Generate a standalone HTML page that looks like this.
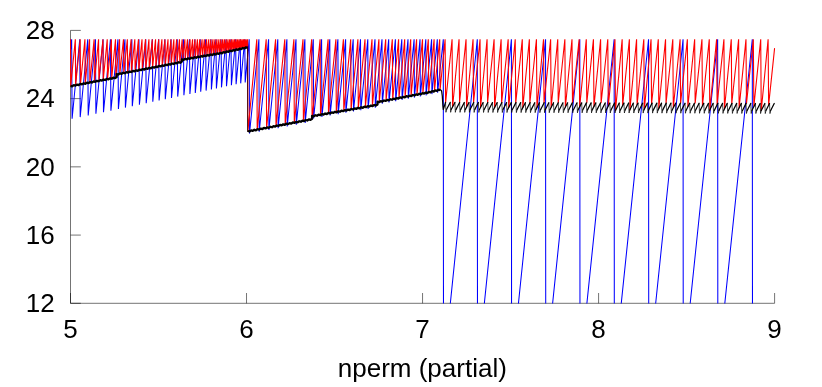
<!DOCTYPE html>
<html><head><meta charset="utf-8"><title>chart</title>
<style>
html,body{margin:0;padding:0;background:#fff;}
body{width:822px;height:387px;overflow:hidden;}
svg{display:block;}
text{font-family:"Liberation Sans",sans-serif;font-size:26px;fill:#000;}
</style></head><body>
<svg width="822" height="387" viewBox="0 0 822 387">
<rect x="0" y="0" width="822" height="387" fill="#fff"/>
<defs><filter id="gray" x="0" y="0" width="822" height="387" filterUnits="userSpaceOnUse" color-interpolation-filters="sRGB"><feColorMatrix type="saturate" values="0"/></filter><clipPath id="c"><rect x="69.90" y="30.40" width="705.30" height="273.20"/></clipPath></defs>
<path d="M70.50,30.40 L70.50,303.30 L774.60,303.30" fill="none" stroke="#000" stroke-width="0.55"/>
<path d="M70.50,30.40 h10.3 M70.50,98.62 h10.3 M70.50,166.85 h10.3 M70.50,235.08 h10.3 M70.50,303.30 h10.3 M70.50,303.30 v-10.3 M246.53,303.30 v-10.3 M422.55,303.30 v-10.3 M598.58,303.30 v-10.3 M774.60,303.30 v-10.3" fill="none" stroke="#000" stroke-width="0.55"/>
<g clip-path="url(#c)" fill="none" stroke-linejoin="bevel" stroke-linecap="butt">
<path d="M70.50,50.00 L71.65,39.30 L72.10,118.80 L79.75,39.30 L80.20,117.10 L87.75,39.30 L88.20,115.41 L95.45,39.30 L95.90,113.79 L103.05,39.30 L103.50,112.19 L110.45,39.30 L110.90,110.64 L117.95,39.30 L118.40,109.06 L124.95,39.30 L125.40,107.59 L131.85,39.30 L132.30,106.13 L138.95,39.30 L139.40,104.64 L145.75,39.30 L146.20,103.21 L152.35,39.30 L152.80,101.82 L158.65,39.30 L159.10,100.50 L164.85,39.30 L165.30,99.19 L171.05,39.30 L171.50,97.89 L177.25,39.30 L177.70,96.58 L183.45,39.30 L183.90,95.28 L189.45,39.30 L189.90,94.01 L194.85,39.30 L195.30,92.88 L200.25,39.30 L200.70,91.74 L205.65,39.30 L206.10,90.61 L210.95,39.30 L211.40,89.49 L215.95,39.30 L216.40,88.44 L221.05,39.30 L221.50,87.37 L226.05,39.30 L226.50,86.31 L230.95,39.30 L231.40,85.28 L235.65,39.30 L236.10,84.29 L240.25,39.30 L240.70,83.33 L244.75,39.30 L245.20,82.38 L249.20,39.30 L249.50,133.60 L258.90,39.30 L259.20,131.75 L268.60,39.30 L268.90,129.91 L277.80,39.30 L278.10,128.16 L286.90,39.30 L287.20,126.43 L296.00,39.30 L296.30,124.70 L304.90,39.30 L305.20,123.01 L313.30,39.30 L313.60,118.44 L321.60,39.30 L321.90,116.99 L329.80,39.30 L330.10,115.57 L337.90,39.30 L338.20,114.16 L345.60,39.30 L345.90,112.82 L353.20,39.30 L353.50,111.50 L360.50,39.30 L360.80,110.23 L367.80,39.30 L368.10,108.96 L375.00,39.30 L375.30,107.70 L382.00,39.30 L382.30,103.69 L388.70,39.30 L389.00,102.41 L395.40,39.30 L395.70,101.14 L401.80,39.30 L402.10,99.93 L408.00,39.30 L408.30,98.75 L414.10,39.30 L414.40,97.59 L420.00,39.30 L420.30,96.47 L425.80,39.30 L426.10,95.37 L431.60,39.30 L431.90,94.08 L437.30,39.30 L437.60,92.77 L443.30,39.30 L443.50,370.20 L477.30,39.30 L477.50,370.20 L511.40,39.30 L511.60,370.20 L545.55,39.30 L545.75,370.20 L579.80,39.30 L580.00,370.20 L614.15,39.30 L614.35,370.20 L648.55,39.30 L648.75,370.20 L683.05,39.30 L683.25,370.20 L717.65,39.30 L717.85,370.20 L752.30,39.30 L752.50,370.20" stroke="#0000ff" stroke-width="1.05"/>
<path d="M70.50,39.30 L70.70,86.16 L75.34,39.30 L75.64,85.22 L80.18,39.30 L80.48,84.30 L84.92,39.30 L85.22,83.40 L89.56,39.30 L89.86,82.52 L94.11,39.30 L94.41,81.66 L98.57,39.30 L98.87,80.81 L102.94,39.30 L103.24,79.98 L107.22,39.30 L107.52,79.17 L111.41,39.30 L111.71,78.37 L115.51,39.30 L115.81,77.59 L119.54,39.30 L119.84,73.80 L123.48,39.30 L123.78,73.06 L127.34,39.30 L127.64,72.32 L131.12,39.30 L131.42,71.60 L134.83,39.30 L135.13,70.90 L138.46,39.30 L138.76,70.21 L142.02,39.30 L142.32,69.53 L145.50,39.30 L145.80,68.87 L148.92,39.30 L149.22,68.22 L152.26,39.30 L152.56,67.59 L155.54,39.30 L155.84,66.96 L158.75,39.30 L159.05,66.35 L161.90,39.30 L162.20,65.76 L164.98,39.30 L165.28,65.17 L168.00,39.30 L168.30,64.60 L170.95,39.30 L171.25,64.03 L173.85,39.30 L174.15,63.48 L176.69,39.30 L176.99,62.94 L179.47,39.30 L179.77,62.42 L182.20,39.30 L182.50,59.68 L184.87,39.30 L185.17,59.23 L187.48,39.30 L187.78,58.78 L190.04,39.30 L190.34,58.35 L192.55,39.30 L192.85,57.92 L195.01,39.30 L195.31,57.50 L197.42,39.30 L197.72,57.09 L199.78,39.30 L200.08,56.69 L202.09,39.30 L202.39,56.30 L204.36,39.30 L204.66,55.91 L206.57,39.30 L206.87,55.54 L208.73,39.30 L209.03,55.17 L210.85,39.30 L211.15,54.81 L212.93,39.30 L213.23,54.46 L214.95,39.30 L215.25,54.11 L216.94,39.30 L217.24,53.78 L218.88,39.30 L219.18,53.45 L220.78,39.30 L221.08,53.07 L222.64,39.30 L222.94,52.67 L224.46,39.30 L224.76,52.28 L226.24,39.30 L226.54,51.89 L227.98,39.30 L228.28,51.52 L229.69,39.30 L229.99,51.15 L231.36,39.30 L231.66,50.79 L232.99,39.30 L233.29,50.44 L234.59,39.30 L234.89,50.10 L236.15,39.30 L236.45,49.76 L237.68,39.30 L237.98,49.43 L239.17,39.30 L239.47,49.11 L240.64,39.30 L240.94,48.80 L242.07,39.30 L242.37,48.49 L243.47,39.30 L243.77,48.19 L244.84,39.30 L245.14,47.89 L246.19,39.30 L246.49,47.61 L247.60,39.30 L247.90,131.40 L256.80,39.30 L257.20,129.65 L266.20,39.30 L266.60,127.87 L275.60,39.30 L276.00,126.08 L284.80,39.30 L285.20,124.33 L293.90,39.30 L294.30,122.60 L303.00,39.30 L303.40,120.87 L311.70,39.30 L312.10,119.22 L320.10,39.30 L320.50,114.76 L328.10,39.30 L328.50,113.36 L335.90,39.30 L336.30,112.01 L343.40,39.30 L343.80,110.70 L350.70,39.30 L351.10,109.43 L357.90,39.30 L358.30,108.18 L365.00,39.30 L365.40,106.94 L372.00,39.30 L372.40,105.73 L378.90,39.30 L379.30,101.78 L385.70,39.30 L386.10,100.48 L392.30,39.30 L392.70,99.23 L398.60,39.30 L399.00,98.03 L404.70,39.30 L405.10,96.88 L410.70,39.30 L411.10,95.73 L416.60,39.30 L417.00,94.61 L422.50,39.30 L422.90,93.49 L428.30,39.30 L428.70,92.39 L434.10,39.30 L434.50,91.00 L439.70,39.30 L440.10,89.72 L445.10,39.30 L445.60,102.60 L452.07,39.30 L452.57,107.21 L459.05,39.30 L459.55,102.65 L466.04,39.30 L466.54,107.51 L473.04,39.30 L473.54,102.79 L480.04,39.30 L480.54,107.74 L487.06,39.30 L487.56,102.97 L494.09,39.30 L494.59,107.88 L501.12,39.30 L501.62,103.07 L508.17,39.30 L508.67,107.95 L515.22,39.30 L515.72,103.10 L522.28,39.30 L522.78,107.94 L529.36,39.30 L529.86,103.05 L536.44,39.30 L536.94,107.86 L543.53,39.30 L544.03,102.92 L550.63,39.30 L551.13,107.69 L557.74,39.30 L558.24,102.98 L564.86,39.30 L565.36,107.45 L571.99,39.30 L572.49,103.02 L579.13,39.30 L579.63,107.13 L586.28,39.30 L586.78,103.07 L593.44,39.30 L593.94,106.73 L600.60,39.30 L601.10,103.12 L607.78,39.30 L608.28,106.24 L614.97,39.30 L615.47,110.86 L622.16,39.30 L622.66,105.68 L629.37,39.30 L629.87,110.27 L636.58,39.30 L637.08,105.04 L643.81,39.30 L644.31,109.59 L651.04,39.30 L651.54,104.31 L658.29,39.30 L658.79,108.82 L665.54,39.30 L666.04,103.50 L672.80,39.30 L673.30,107.98 L680.08,39.30 L680.58,103.39 L687.36,39.30 L687.86,107.05 L694.65,39.30 L695.15,103.43 L701.95,39.30 L702.45,106.05 L709.27,39.30 L709.77,110.43 L716.59,39.30 L717.09,104.95 L723.92,39.30 L724.42,109.30 L731.26,39.30 L731.76,103.78 L738.61,39.30 L739.11,108.09 L745.97,39.30 L746.47,103.61 L753.34,39.30 L753.84,106.79 L760.72,39.30 L761.22,111.05 L768.11,39.30 L768.61,105.41 L774.60,48.12" stroke="#ff0000" stroke-width="1.1"/>
<path d="M247.55,46.5 V132" stroke="#000" stroke-width="0.7"/>
<path d="M70.50,85.80 L72.15,86.29 L73.80,85.17 L75.45,85.66 L77.10,84.55 L78.75,85.03 L80.40,83.92 L82.05,84.41 L83.70,83.29 L85.35,83.78 L87.00,82.66 L88.65,83.15 L90.30,82.04 L91.95,82.52 L93.60,81.41 L95.25,81.90 L96.90,80.78 L98.55,81.27 L100.20,80.16 L101.85,80.64 L103.50,79.53 L105.15,80.02 L106.80,78.90 L108.45,79.39 L110.10,78.28 L111.75,78.76 L113.40,77.65 L115.05,78.14 L116.70,77.02 L116.70,74.00 L118.33,74.49 L119.95,73.38 L121.58,73.87 L123.21,72.76 L124.84,73.25 L126.47,72.14 L128.09,72.64 L129.72,71.53 L131.35,72.02 L132.97,70.91 L134.60,71.40 L136.23,70.29 L137.86,70.78 L139.49,69.67 L141.11,70.16 L142.74,69.05 L144.37,69.54 L146.00,68.43 L147.62,68.92 L149.25,67.82 L150.88,68.31 L152.50,67.20 L154.13,67.69 L155.76,66.58 L157.39,67.07 L159.02,65.96 L160.64,66.45 L162.27,65.34 L163.90,65.83 L165.53,64.72 L167.15,65.21 L168.78,64.10 L170.41,64.60 L172.03,63.49 L173.66,63.98 L175.29,62.87 L176.92,63.36 L178.55,62.25 L180.17,62.74 L181.80,61.63 L181.80,59.40 L183.40,59.93 L185.01,58.85 L186.61,59.38 L188.22,58.31 L189.82,58.84 L191.43,57.76 L193.03,58.29 L194.64,57.22 L196.24,57.74 L197.85,56.67 L199.45,57.20 L201.06,56.13 L202.66,56.65 L204.27,55.58 L205.87,56.11 L207.48,55.03 L209.08,55.56 L210.69,54.49 L212.29,55.02 L213.90,53.94 L215.50,54.47 L217.11,53.40 L218.71,53.92 L220.32,52.83 L221.92,53.29 L223.53,52.14 L225.13,52.60 L226.74,51.45 L228.34,51.91 L229.95,50.76 L231.55,51.22 L233.16,50.07 L234.76,50.53 L236.37,49.38 L237.97,49.84 L239.58,48.69 L241.18,49.15 L242.79,48.00 L244.39,48.46 L246.00,47.31 L247.60,47.77 M247.90,131.00 L249.50,131.50 L251.11,130.39 L252.72,130.89 L254.32,129.78 L255.93,130.28 L257.53,129.17 L259.13,129.67 L260.74,128.56 L262.35,129.06 L263.95,127.95 L265.56,128.45 L267.16,127.34 L268.76,127.84 L270.37,126.73 L271.98,127.23 L273.58,126.12 L275.19,126.62 L276.79,125.51 L278.40,126.01 L280.00,124.90 L281.61,125.40 L283.21,124.29 L284.81,124.79 L286.42,123.68 L288.03,124.18 L289.63,123.07 L291.24,123.57 L292.84,122.46 L294.44,122.96 L296.05,121.85 L297.66,122.35 L299.26,121.24 L300.87,121.74 L302.47,120.63 L304.08,121.13 L305.68,120.02 L307.29,120.52 L308.89,119.41 L310.50,119.91 L312.10,118.80 L312.10,115.80 L313.74,116.32 L315.37,115.23 L317.00,115.75 L318.64,114.66 L320.28,115.18 L321.91,114.09 L323.55,114.61 L325.18,113.52 L326.81,114.04 L328.45,112.96 L330.09,113.47 L331.72,112.39 L333.36,112.90 L334.99,111.82 L336.62,112.33 L338.26,111.25 L339.90,111.76 L341.53,110.68 L343.17,111.19 L344.80,110.11 L346.44,110.63 L348.07,109.54 L349.70,110.06 L351.34,108.97 L352.98,109.49 L354.61,108.40 L356.25,108.92 L357.88,107.83 L359.51,108.35 L361.15,107.27 L362.79,107.78 L364.42,106.70 L366.06,107.21 L367.69,106.13 L369.32,106.64 L370.96,105.56 L372.60,106.07 L374.23,104.99 L375.87,105.50 L377.50,104.42 L377.50,101.70 L379.11,102.19 L380.72,101.09 L382.32,101.58 L383.93,100.48 L385.54,100.97 L387.15,99.87 L388.75,100.36 L390.36,99.26 L391.97,99.75 L393.58,98.65 L395.18,99.14 L396.79,98.03 L398.40,98.53 L400.01,97.42 L401.62,97.92 L403.22,96.81 L404.83,97.31 L406.44,96.20 L408.05,96.70 L409.65,95.59 L411.26,96.09 L412.87,94.98 L414.48,95.47 L416.08,94.37 L417.69,94.86 L419.30,93.76 L420.91,94.25 L422.52,93.15 L424.12,93.64 L425.73,92.54 L427.34,93.03 L428.95,91.93 L430.55,92.29 L432.16,91.12 L433.77,91.55 L435.38,90.38 L436.98,90.81 L438.59,89.64 L440.20,90.07" stroke="#000" stroke-width="2.3" stroke-linejoin="round"/>
<path d="M445.50,102.40 L445.95,112.30 L446.65,109.30 M450.20,102.42 L450.65,112.32 L451.35,109.32 M454.89,102.43 L455.34,112.34 L456.04,109.34 M459.59,102.45 L460.04,112.36 L460.74,109.36 M464.28,102.46 L464.73,112.37 L465.43,109.37 M468.98,102.48 L469.43,112.39 L470.13,109.39 M473.68,102.49 L474.13,112.41 L474.83,109.41 M478.37,102.51 L478.82,112.43 L479.52,109.43 M483.07,102.53 L483.52,112.45 L484.22,109.45 M487.76,102.54 L488.21,112.47 L488.91,109.47 M492.46,102.56 L492.91,112.49 L493.61,109.49 M497.16,102.57 L497.61,112.50 L498.31,109.50 M501.85,102.59 L502.30,112.52 L503.00,109.52 M506.55,102.60 L507.00,112.54 L507.70,109.54 M511.24,102.62 L511.69,112.56 L512.39,109.56 M515.94,102.64 L516.39,112.58 L517.09,109.58 M520.64,102.65 L521.09,112.60 L521.79,109.60 M525.33,102.67 L525.78,112.62 L526.48,109.62 M530.03,102.68 L530.48,112.63 L531.18,109.63 M534.72,102.70 L535.17,112.65 L535.87,109.65 M539.42,102.71 L539.87,112.67 L540.57,109.67 M544.12,102.73 L544.57,112.69 L545.27,109.69 M548.81,102.75 L549.26,112.71 L549.96,109.71 M553.51,102.76 L553.96,112.73 L554.66,109.73 M558.20,102.78 L558.65,112.75 L559.35,109.75 M562.90,102.79 L563.35,112.76 L564.05,109.76 M567.60,102.81 L568.05,112.78 L568.75,109.78 M572.29,102.82 L572.74,112.80 L573.44,109.80 M576.99,102.84 L577.44,112.82 L578.14,109.82 M581.68,102.86 L582.13,112.84 L582.83,109.84 M586.38,102.87 L586.83,112.86 L587.53,109.86 M591.08,102.89 L591.53,112.88 L592.23,109.88 M595.77,102.90 L596.22,112.89 L596.92,109.89 M600.47,102.92 L600.92,112.91 L601.62,109.91 M605.16,102.93 L605.61,112.93 L606.31,109.93 M609.86,102.95 L610.31,112.95 L611.01,109.95 M614.56,102.97 L615.01,112.97 L615.71,109.97 M619.25,102.98 L619.70,112.99 L620.40,109.99 M623.95,103.00 L624.40,113.00 L625.10,110.00 M628.64,103.01 L629.09,113.02 L629.79,110.02 M633.34,103.03 L633.79,113.04 L634.49,110.04 M638.04,103.04 L638.49,113.06 L639.19,110.06 M642.73,103.06 L643.18,113.08 L643.88,110.08 M647.43,103.07 L647.88,113.10 L648.58,110.10 M652.12,103.09 L652.57,113.12 L653.27,110.12 M656.82,103.11 L657.27,113.13 L657.97,110.13 M661.52,103.12 L661.97,113.15 L662.67,110.15 M666.21,103.14 L666.66,113.17 L667.36,110.17 M670.91,103.15 L671.36,113.19 L672.06,110.19 M675.60,103.17 L676.05,113.21 L676.75,110.21 M680.30,103.18 L680.75,113.23 L681.45,110.23 M685.00,103.20 L685.45,113.25 L686.15,110.25 M689.69,103.22 L690.14,113.26 L690.84,110.26 M694.39,103.23 L694.84,113.28 L695.54,110.28 M699.08,103.25 L699.53,113.30 L700.23,110.30 M703.78,103.26 L704.23,113.32 L704.93,110.32 M708.48,103.28 L708.93,113.34 L709.63,110.34 M713.17,103.29 L713.62,113.36 L714.32,110.36 M717.87,103.31 L718.32,113.38 L719.02,110.38 M722.56,103.33 L723.01,113.39 L723.71,110.39 M727.26,103.34 L727.71,113.41 L728.41,110.41 M731.96,103.36 L732.41,113.43 L733.11,110.43 M736.65,103.37 L737.10,113.45 L737.80,110.45 M741.35,103.39 L741.80,113.47 L742.50,110.47 M746.04,103.40 L746.49,113.49 L747.19,110.49 M750.74,103.42 L751.19,113.51 L751.89,110.51 M755.44,103.44 L755.89,113.52 L756.59,110.52 M760.13,103.45 L760.58,113.54 L761.28,110.54 M764.83,103.47 L765.28,113.56 L765.98,110.56 M769.52,103.48 L769.97,113.58 L770.67,110.58" stroke="#000" stroke-width="0.7" stroke-linejoin="round"/>
<path d="M439.00,89.80 L440.60,89.80 L441.60,91.00 L442.30,96.00 L442.90,106.00 L443.30,109.50 M443.30,109.50 L445.50,102.40 M446.65,109.30 L450.20,102.42 M451.35,109.32 L454.89,102.43 M456.04,109.34 L459.59,102.45 M460.74,109.36 L464.28,102.46 M465.43,109.37 L468.98,102.48 M470.13,109.39 L473.68,102.49 M474.83,109.41 L478.37,102.51 M479.52,109.43 L483.07,102.53 M484.22,109.45 L487.76,102.54 M488.91,109.47 L492.46,102.56 M493.61,109.49 L497.16,102.57 M498.31,109.50 L501.85,102.59 M503.00,109.52 L506.55,102.60 M507.70,109.54 L511.24,102.62 M512.39,109.56 L515.94,102.64 M517.09,109.58 L520.64,102.65 M521.79,109.60 L525.33,102.67 M526.48,109.62 L530.03,102.68 M531.18,109.63 L534.72,102.70 M535.87,109.65 L539.42,102.71 M540.57,109.67 L544.12,102.73 M545.27,109.69 L548.81,102.75 M549.96,109.71 L553.51,102.76 M554.66,109.73 L558.20,102.78 M559.35,109.75 L562.90,102.79 M564.05,109.76 L567.60,102.81 M568.75,109.78 L572.29,102.82 M573.44,109.80 L576.99,102.84 M578.14,109.82 L581.68,102.86 M582.83,109.84 L586.38,102.87 M587.53,109.86 L591.08,102.89 M592.23,109.88 L595.77,102.90 M596.92,109.89 L600.47,102.92 M601.62,109.91 L605.16,102.93 M606.31,109.93 L609.86,102.95 M611.01,109.95 L614.56,102.97 M615.71,109.97 L619.25,102.98 M620.40,109.99 L623.95,103.00 M625.10,110.00 L628.64,103.01 M629.79,110.02 L633.34,103.03 M634.49,110.04 L638.04,103.04 M639.19,110.06 L642.73,103.06 M643.88,110.08 L647.43,103.07 M648.58,110.10 L652.12,103.09 M653.27,110.12 L656.82,103.11 M657.97,110.13 L661.52,103.12 M662.67,110.15 L666.21,103.14 M667.36,110.17 L670.91,103.15 M672.06,110.19 L675.60,103.17 M676.75,110.21 L680.30,103.18 M681.45,110.23 L685.00,103.20 M686.15,110.25 L689.69,103.22 M690.84,110.26 L694.39,103.23 M695.54,110.28 L699.08,103.25 M700.23,110.30 L703.78,103.26 M704.93,110.32 L708.48,103.28 M709.63,110.34 L713.17,103.29 M714.32,110.36 L717.87,103.31 M719.02,110.38 L722.56,103.33 M723.71,110.39 L727.26,103.34 M728.41,110.41 L731.96,103.36 M733.11,110.43 L736.65,103.37 M737.80,110.45 L741.35,103.39 M742.50,110.47 L746.04,103.40 M747.19,110.49 L750.74,103.42 M751.89,110.51 L755.44,103.44 M756.59,110.52 L760.13,103.45 M761.28,110.54 L764.83,103.47 M765.98,110.56 L769.52,103.48 M770.67,110.58 L774.22,103.50" stroke="#000" stroke-width="1.25" stroke-linecap="round" stroke-linejoin="round"/>
</g>
<g filter="url(#gray)"><text x="54.7" y="39.20" text-anchor="end">28</text>
<text x="54.7" y="107.42" text-anchor="end">24</text>
<text x="54.7" y="175.65" text-anchor="end">20</text>
<text x="54.7" y="243.88" text-anchor="end">16</text>
<text x="54.7" y="312.10" text-anchor="end">12</text>
<text x="70.50" y="337.8" text-anchor="middle">5</text>
<text x="246.53" y="337.8" text-anchor="middle">6</text>
<text x="422.55" y="337.8" text-anchor="middle">7</text>
<text x="598.58" y="337.8" text-anchor="middle">8</text>
<text x="774.60" y="337.8" text-anchor="middle">9</text>
<text x="422.3" y="376.9" text-anchor="middle">nperm (partial)</text></g>
</svg>
</body></html>
